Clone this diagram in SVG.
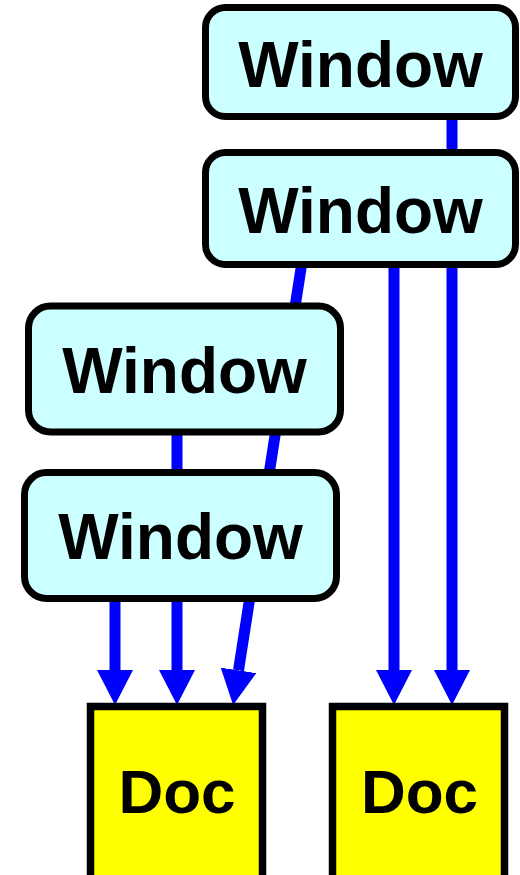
<svg xmlns="http://www.w3.org/2000/svg" width="520" height="875" viewBox="0 0 520 875">
<style>
.win{fill:#ccffff;stroke:#000;stroke-width:7}
.doc{fill:#ffff00;stroke:#000;stroke-width:7.5}
.lbl{font-family:"Liberation Sans",Arial,sans-serif;font-weight:bold;fill:#000;text-anchor:middle}
.edge{stroke:#0000ff;stroke-width:11;fill:none}
</style>
<defs>
<marker id="ah" markerUnits="userSpaceOnUse" markerWidth="36" markerHeight="36" refX="0" refY="18" orient="auto" viewBox="0 0 36 36">
<path d="M0,0 L35,18 L0,36 z" fill="#0000ff"/>
</marker>
</defs>
<rect width="520" height="875" fill="#fff"/>
<g id="connectors">
<line class="edge" x1="452" y1="117" x2="452" y2="670" marker-end="url(#ah)"/>
<line class="edge" x1="394" y1="265" x2="394" y2="670" marker-end="url(#ah)"/>
<line class="edge" x1="302" y1="262" x2="238.5" y2="670.4" marker-end="url(#ah)"/>
<line class="edge" x1="177" y1="432" x2="177" y2="670" marker-end="url(#ah)"/>
<line class="edge" x1="115" y1="598" x2="115" y2="670" marker-end="url(#ah)"/>
</g>
<g id="window1">
<rect class="win" x="205.5" y="7.5" width="310" height="109" rx="20"/>
<text class="lbl" x="360.5" y="87" font-size="64">Window</text>
</g>
<g id="window2">
<rect class="win" x="205.5" y="152.5" width="310" height="112" rx="20"/>
<text class="lbl" x="360.5" y="233" font-size="64">Window</text>
</g>
<g id="window3">
<rect class="win" x="28.5" y="306" width="312" height="126" rx="22"/>
<text class="lbl" x="184.5" y="393" font-size="64">Window</text>
</g>
<g id="window4">
<rect class="win" x="24.5" y="472.5" width="312" height="126" rx="22"/>
<text class="lbl" x="180.5" y="559" font-size="64">Window</text>
</g>
<g id="doc1">
<rect class="doc" x="90.5" y="706.5" width="172" height="200"/>
<text class="lbl" x="177" y="813" font-size="62">Doc</text>
</g>
<g id="doc2">
<rect class="doc" x="332.5" y="706.5" width="172" height="200"/>
<text class="lbl" x="419.5" y="813" font-size="62">Doc</text>
</g>
</svg>
